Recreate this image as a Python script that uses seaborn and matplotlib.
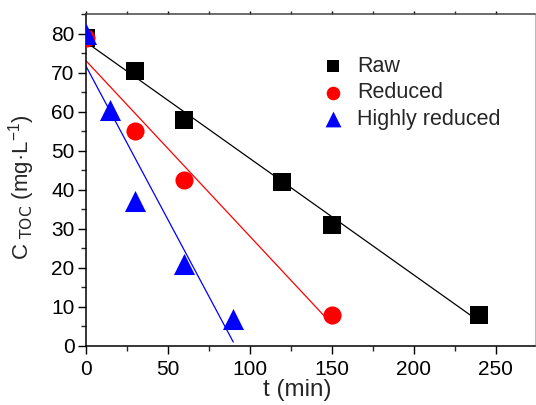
import numpy as np
import pandas as pd
import matplotlib
matplotlib.use("Agg")
import matplotlib.pyplot as plt
from matplotlib.ticker import MultipleLocator
import seaborn as sns

# TOC concentration over time for three sample types
raw_t = [0, 30, 60, 120, 150, 240]
raw_c = [79, 70.5, 57.8, 42, 31, 8]
red_t = [0, 30, 60, 150]
red_c = [79, 55, 42.5, 8]
high_t = [0, 15, 30, 60, 90]
high_c = [80, 60.5, 37, 21, 7]

series = ["Raw", "Reduced", "Highly reduced"]
colors = ["black", "red", "blue"]
markers = ["s", "o", "^"]
sizes = [150, 170, 230]

df = pd.concat([
    pd.DataFrame({"t": raw_t, "c": raw_c, "sample": series[0]}),
    pd.DataFrame({"t": red_t, "c": red_c, "sample": series[1]}),
    pd.DataFrame({"t": high_t, "c": high_c, "sample": series[2]}),
], ignore_index=True)

sns.set_style("ticks")
plt.rcParams["font.family"] = ["Liberation Sans", "DejaVu Sans"]
plt.rcParams["mathtext.default"] = "regular"

fig = plt.figure(figsize=(5.36, 4.05), dpi=100)
ax = fig.add_axes([0.160, 0.146, 0.838, 0.819])

# linear fits
for name, col in zip(series, colors):
    sub = df[df["sample"] == name]
    sns.regplot(data=sub, x="t", y="c", ax=ax, scatter=False, ci=None,
                truncate=True, color=col, line_kws={"lw": 0.9})

# measured points
for name, col, mk, sz in zip(series, colors, markers, sizes):
    sub = df[df["sample"] == name]
    sns.scatterplot(data=sub, x="t", y="c", ax=ax, color=col, marker=mk,
                    s=sz, edgecolor=col, linewidth=0, label=name, zorder=3)

ax.set_xlim(0, 274)
ax.set_ylim(0, 85)
ax.xaxis.set_major_locator(MultipleLocator(50))
ax.xaxis.set_minor_locator(MultipleLocator(25))
ax.yaxis.set_major_locator(MultipleLocator(10))
ax.yaxis.set_minor_locator(MultipleLocator(5))

ax.tick_params(axis="both", which="major", direction="out", length=6,
               width=1, labelsize=15, colors="black", pad=2)
ax.tick_params(axis="x", which="major", pad=4)
ax.tick_params(axis="both", which="minor", direction="out", length=3.5, width=1)
ax.tick_params(axis="x", which="both", top=True, labeltop=False)

for s in ["left", "bottom"]:
    ax.spines[s].set_linewidth(1.1)
    ax.spines[s].set_color("black")
ax.spines["top"].set_color("#444444")
ax.spines["top"].set_linewidth(1.1)
ax.spines["right"].set_color("#bbbbbb")
ax.spines["right"].set_linewidth(0.8)

ax.set_xlabel("t (min)", fontsize=17.5)
ax.xaxis.set_label_coords(0.47, -0.100)
ax.set_ylabel("C$_{\\ \\mathrm{TOC}}$ (mg·L$^{-1}$)", fontsize=16)
ax.yaxis.set_label_coords(-0.108, 0.478)

# top ticks drawn small and inward
for t in ax.xaxis.get_major_ticks() + ax.xaxis.get_minor_ticks():
    t.tick2line.set_markersize(2)
    t.tick2line.set_marker(2)

leg = ax.legend(loc="upper left", bbox_to_anchor=(0.47, 0.92), frameon=False,
                fontsize=15.5, handletextpad=0.1, labelspacing=0.25,
                markerscale=0.75, borderaxespad=0.3)

fig.savefig("out.png", dpi=100)
